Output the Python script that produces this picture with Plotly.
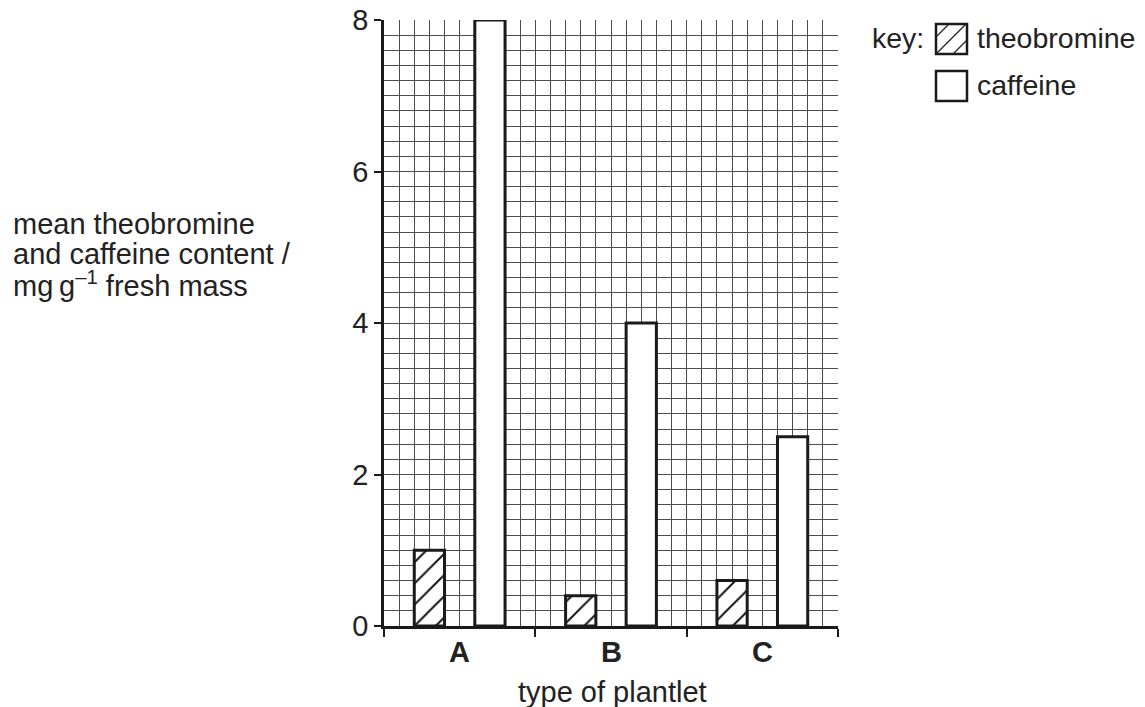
import plotly.graph_objects as go

# ---- data ----
categories = ["A", "B", "C"]
theobromine = [1.0, 0.4, 0.6]
caffeine = [8.0, 4.0, 2.5]
y_ticks = [0, 2, 4, 6, 8]
x_title = "type of plantlet"
y_title_lines = ["mean theobromine", "and caffeine content /", "mg\u2009g<sup>\u20131</sup> fresh mass"]

FONT = "Liberation Sans, Arial, Helvetica, sans-serif"
FS = 29
TXT = "#222222"
OX, OY = 8, 8                  # page offset of the figure div (body margin)
W, H = 1145 - OX, 707 - OY
L, R, T, B = 384, 838, 20, 626  # plot area in page px

def px(xp):
    return (xp - L) / (R - L)

def py(yp):
    return (B - yp) / (B - T)

centers = [i + 0.5 for i in range(len(categories))]
x_theo = [c - 0.2 for c in centers]
x_caff = [c + 0.2 for c in centers]

fig = go.Figure()
fig.add_trace(go.Bar(
    x=x_theo, y=theobromine, width=0.2, name="theobromine",
    marker=dict(color="white",
                line=dict(color="#1a1a1a", width=3),
                pattern=dict(shape="/", fgcolor="#111111", bgcolor="white",
                             fgopacity=1, size=15, solidity=0.13)),
    showlegend=False,
))
fig.add_trace(go.Bar(
    x=x_caff, y=caffeine, width=0.2, name="caffeine",
    marker=dict(color="white", line=dict(color="#1a1a1a", width=3)),
    showlegend=False,
))

GRID = "#4d4d4d"
fig.update_layout(
    width=W, height=H,
    margin=dict(l=L - OX, r=W - (R - OX), t=T - OY, b=H - (B - OY), autoexpand=False),
    paper_bgcolor="white", plot_bgcolor="white",
    barmode="overlay",
    font=dict(family=FONT, size=FS, color=TXT),
    xaxis=dict(range=[0, 3], tickvals=[0, 1, 2, 3], showticklabels=False, automargin=False,
               ticks="outside", ticklen=8, tickwidth=2, tickcolor="#1a1a1a",
               showline=True, linecolor="#1a1a1a", linewidth=2.5,
               showgrid=True, gridcolor=GRID, gridwidth=1, zeroline=False,
               minor=dict(dtick=0.1, showgrid=True, gridcolor=GRID, gridwidth=1, ticks="")),
    yaxis=dict(range=[0, 8], tickvals=y_ticks, ticks="outside", ticklen=7, tickwidth=2,
               tickcolor="#1a1a1a", showline=True, linecolor="#1a1a1a", linewidth=2.5,
               tickfont=dict(size=FS, family=FONT, color=TXT), automargin=False,
               ticklabeloverflow="allow",
               showgrid=True, gridcolor=GRID, gridwidth=1, zeroline=False,
               minor=dict(dtick=0.2, showgrid=True, gridcolor=GRID, gridwidth=1, ticks="")),
)

annotations = []
# category labels
for c, lab in zip(centers, categories):
    annotations.append(dict(x=c, xref="x", y=py(634), yref="paper", yanchor="top",
                            text=f"<b>{lab}</b>", showarrow=False,
                            font=dict(size=FS, family=FONT, color=TXT)))
# x title
annotations.append(dict(x=px(612), xref="paper", y=py(692), yref="paper", yanchor="middle",
                        text=x_title, showarrow=False,
                        font=dict(size=FS, family=FONT, color=TXT)))
# y title lines
for i, line in enumerate(y_title_lines):
    annotations.append(dict(x=px(11), xref="paper", xanchor="left",
                            y=py(224 + 30 * i), yref="paper", yanchor="middle",
                            text=line, showarrow=False,
                            font=dict(size=FS, family=FONT, color=TXT)))
# key
KFS = 28.5
annotations.append(dict(x=px(870), xref="paper", xanchor="left", y=py(38), yref="paper",
                        yanchor="middle", text="key:", showarrow=False,
                        font=dict(size=KFS, family=FONT, color=TXT)))
annotations.append(dict(x=px(975), xref="paper", xanchor="left", y=py(38), yref="paper",
                        yanchor="middle", text="theobromine", showarrow=False,
                        font=dict(size=KFS, family=FONT, color=TXT)))
annotations.append(dict(x=px(975), xref="paper", xanchor="left", y=py(85), yref="paper",
                        yanchor="middle", text="caffeine", showarrow=False,
                        font=dict(size=KFS, family=FONT, color=TXT)))
fig.update_layout(annotations=annotations)

shapes = []
bx0, bx1 = 936, 967
for (by0, by1, hatched) in [(24, 54, True), (71, 101, False)]:
    shapes.append(dict(type="rect", xref="paper", yref="paper",
                       x0=px(bx0), x1=px(bx1), y0=py(by1), y1=py(by0),
                       line=dict(color="#1a1a1a", width=2.5), fillcolor="white"))
    if hatched:
        w = bx1 - bx0
        h = by1 - by0
        for cst in [13, 30, 47]:
            # "/" lines: (x - bx0) + (y - by0) = cst, clipped to the box
            pts = []
            yy = by0 + cst
            if by0 <= yy <= by1:
                pts.append((bx0, yy))          # left edge
            xx = bx0 + cst
            if bx0 <= xx <= bx1:
                pts.append((xx, by0))          # top edge
            xx = bx0 + cst - h
            if bx0 <= xx <= bx1:
                pts.append((xx, by1))          # bottom edge
            yy = by0 + cst - w
            if by0 <= yy <= by1:
                pts.append((bx1, yy))          # right edge
            if len(pts) >= 2:
                (ax, ay), (cx, cy) = pts[0], pts[1]
                shapes.append(dict(type="line", xref="paper", yref="paper",
                                   x0=px(ax), y0=py(ay), x1=px(cx), y1=py(cy),
                                   line=dict(color="#222222", width=1.3)))
fig.update_layout(shapes=shapes)

fig.write_html("out.html")
